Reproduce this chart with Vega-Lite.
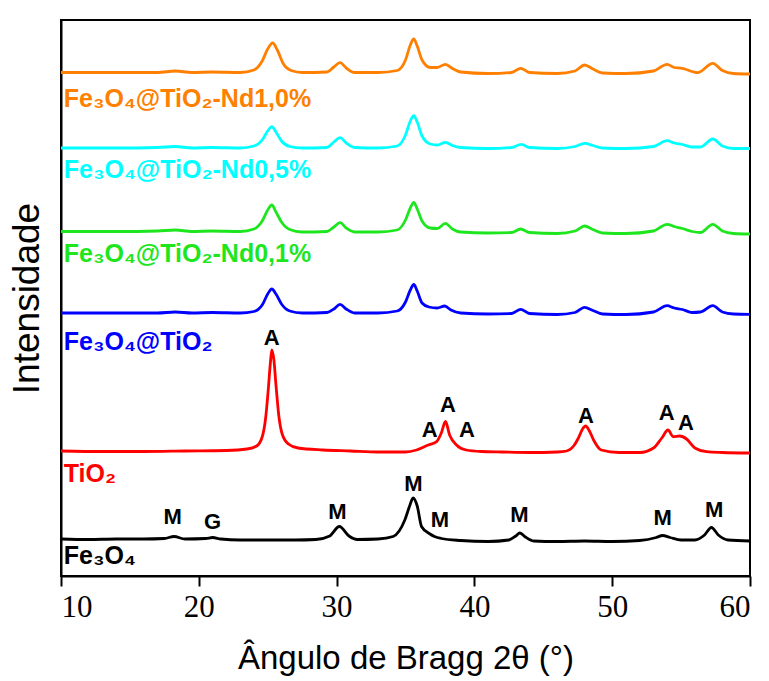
{
  "$schema": "https://vega.github.io/schema/vega-lite/v6.json",
  "width": 689,
  "height": 556,
  "autosize": {"type": "none"},
  "padding": {"left": 61, "top": 20, "right": 19, "bottom": 105},
  "background": "white",
  "config": {
    "view": {"stroke": "black", "strokeWidth": 2},
    "font": "Liberation Sans"
  },
  "datasets": {
    "lines": [
      {"s":"Fe3O4","x":10,"y":37},{"s":"Fe3O4","x":12,"y":36.5},{"s":"Fe3O4","x":14,"y":37},{"s":"Fe3O4","x":16,"y":37},{"s":"Fe3O4","x":17.5,"y":37.5},{"s":"Fe3O4","x":18.2,"y":39.5},{"s":"Fe3O4","x":19,"y":37},{"s":"Fe3O4","x":20.5,"y":37.5},{"s":"Fe3O4","x":21.0,"y":38.5},{"s":"Fe3O4","x":21.6,"y":37},{"s":"Fe3O4","x":23,"y":36},{"s":"Fe3O4","x":25,"y":36},{"s":"Fe3O4","x":27,"y":36},{"s":"Fe3O4","x":28.5,"y":36.5},{"s":"Fe3O4","x":29.5,"y":40},{"s":"Fe3O4","x":30.2,"y":49.5},{"s":"Fe3O4","x":30.9,"y":40},{"s":"Fe3O4","x":31.5,"y":36.5},{"s":"Fe3O4","x":33,"y":37},{"s":"Fe3O4","x":34.1,"y":39.5},{"s":"Fe3O4","x":34.95,"y":56},{"s":"Fe3O4","x":35.3,"y":70},{"s":"Fe3O4","x":35.55,"y":78},{"s":"Fe3O4","x":35.85,"y":70},{"s":"Fe3O4","x":36.17,"y":49.3},{"s":"Fe3O4","x":36.78,"y":42},{"s":"Fe3O4","x":37.1,"y":39.5},{"s":"Fe3O4","x":37.6,"y":37.5},{"s":"Fe3O4","x":39,"y":35.5},{"s":"Fe3O4","x":41,"y":34.5},{"s":"Fe3O4","x":42.5,"y":36},{"s":"Fe3O4","x":43.0,"y":40},{"s":"Fe3O4","x":43.3,"y":43},{"s":"Fe3O4","x":43.7,"y":39},{"s":"Fe3O4","x":44.3,"y":35},{"s":"Fe3O4","x":46,"y":34.5},{"s":"Fe3O4","x":48,"y":35},{"s":"Fe3O4","x":50,"y":34.5},{"s":"Fe3O4","x":52,"y":35.5},{"s":"Fe3O4","x":53.2,"y":38.5},{"s":"Fe3O4","x":53.65,"y":40.5},{"s":"Fe3O4","x":54.2,"y":38.5},{"s":"Fe3O4","x":55,"y":36},{"s":"Fe3O4","x":56,"y":36},{"s":"Fe3O4","x":56.7,"y":41},{"s":"Fe3O4","x":57.2,"y":48.5},{"s":"Fe3O4","x":57.7,"y":41},{"s":"Fe3O4","x":58.4,"y":36},{"s":"Fe3O4","x":60,"y":35},

      {"s":"TiO2","x":10,"y":125},{"s":"TiO2","x":13,"y":124.5},{"s":"TiO2","x":16,"y":124.5},{"s":"TiO2","x":19,"y":125},{"s":"TiO2","x":22,"y":125.5},{"s":"TiO2","x":23.5,"y":127},{"s":"TiO2","x":24.2,"y":130},{"s":"TiO2","x":24.6,"y":139},{"s":"TiO2","x":24.85,"y":158},{"s":"TiO2","x":25.05,"y":188},{"s":"TiO2","x":25.2,"y":214},{"s":"TiO2","x":25.3,"y":226},{"s":"TiO2","x":25.45,"y":216},{"s":"TiO2","x":25.6,"y":191},{"s":"TiO2","x":25.8,"y":161},{"s":"TiO2","x":26.05,"y":142},{"s":"TiO2","x":26.5,"y":132},{"s":"TiO2","x":27.2,"y":128},{"s":"TiO2","x":29,"y":126},{"s":"TiO2","x":31,"y":125},{"s":"TiO2","x":33,"y":124},{"s":"TiO2","x":35,"y":124},{"s":"TiO2","x":35.8,"y":126},{"s":"TiO2","x":36.65,"y":131},{"s":"TiO2","x":37.26,"y":134.3},{"s":"TiO2","x":37.6,"y":143},{"s":"TiO2","x":37.9,"y":154.5},{"s":"TiO2","x":38.2,"y":141},{"s":"TiO2","x":38.7,"y":131},{"s":"TiO2","x":39.4,"y":126},{"s":"TiO2","x":40.5,"y":124.5},{"s":"TiO2","x":42,"y":124},{"s":"TiO2","x":44,"y":123.5},{"s":"TiO2","x":46,"y":124},{"s":"TiO2","x":46.7,"y":125},{"s":"TiO2","x":47.2,"y":130},{"s":"TiO2","x":47.55,"y":138},{"s":"TiO2","x":47.85,"y":147},{"s":"TiO2","x":48.07,"y":150},{"s":"TiO2","x":48.35,"y":145},{"s":"TiO2","x":48.65,"y":136},{"s":"TiO2","x":49.2,"y":126},{"s":"TiO2","x":50.5,"y":123.5},{"s":"TiO2","x":52,"y":123.5},{"s":"TiO2","x":53.0,"y":128},{"s":"TiO2","x":53.6,"y":138},{"s":"TiO2","x":54.05,"y":146},{"s":"TiO2","x":54.43,"y":139.3},{"s":"TiO2","x":54.9,"y":140},{"s":"TiO2","x":55.4,"y":137},{"s":"TiO2","x":56.0,"y":128},{"s":"TiO2","x":56.85,"y":124.3},{"s":"TiO2","x":58,"y":123.5},{"s":"TiO2","x":60,"y":123},

      {"s":"FT","x":10,"y":263},{"s":"FT","x":14,"y":263},{"s":"FT","x":17,"y":263},{"s":"FT","x":18.3,"y":264},{"s":"FT","x":19.5,"y":263},{"s":"FT","x":21,"y":263.5},{"s":"FT","x":23,"y":263},{"s":"FT","x":24.0,"y":264.5},{"s":"FT","x":24.6,"y":271},{"s":"FT","x":25.0,"y":282},{"s":"FT","x":25.3,"y":287},{"s":"FT","x":25.6,"y":282},{"s":"FT","x":26.0,"y":272},{"s":"FT","x":26.6,"y":265},{"s":"FT","x":27.5,"y":263},{"s":"FT","x":29.3,"y":263.5},{"s":"FT","x":29.8,"y":267},{"s":"FT","x":30.25,"y":271.7},{"s":"FT","x":30.7,"y":267},{"s":"FT","x":31.3,"y":263},{"s":"FT","x":33,"y":263},{"s":"FT","x":34.4,"y":265},{"s":"FT","x":35.0,"y":274},{"s":"FT","x":35.35,"y":286},{"s":"FT","x":35.6,"y":291.5},{"s":"FT","x":35.85,"y":285},{"s":"FT","x":36.2,"y":273},{"s":"FT","x":36.7,"y":269},{"s":"FT","x":37.3,"y":268},{"s":"FT","x":37.85,"y":270},{"s":"FT","x":38.3,"y":266},{"s":"FT","x":39,"y":263},{"s":"FT","x":41,"y":262},{"s":"FT","x":42.7,"y":262.5},{"s":"FT","x":43.36,"y":266.7},{"s":"FT","x":44,"y":262.5},{"s":"FT","x":46,"y":261.5},{"s":"FT","x":47.3,"y":263.5},{"s":"FT","x":48.0,"y":268.7},{"s":"FT","x":48.6,"y":265.5},{"s":"FT","x":49.3,"y":262},{"s":"FT","x":51,"y":261.5},{"s":"FT","x":53.0,"y":264},{"s":"FT","x":53.98,"y":270.3},{"s":"FT","x":54.5,"y":268},{"s":"FT","x":55.1,"y":266.5},{"s":"FT","x":55.8,"y":263.5},{"s":"FT","x":56.4,"y":264},{"s":"FT","x":57.3,"y":270.3},{"s":"FT","x":58,"y":264},{"s":"FT","x":58.8,"y":262},{"s":"FT","x":60,"y":261.7},

      {"s":"N01","x":10,"y":344.5},{"s":"N01","x":14,"y":344.5},{"s":"N01","x":17,"y":345},{"s":"N01","x":18.3,"y":346},{"s":"N01","x":19.5,"y":344.5},{"s":"N01","x":21,"y":345},{"s":"N01","x":23,"y":344.5},{"s":"N01","x":24.0,"y":347},{"s":"N01","x":24.6,"y":355},{"s":"N01","x":25.0,"y":366},{"s":"N01","x":25.3,"y":371},{"s":"N01","x":25.6,"y":364},{"s":"N01","x":26.0,"y":354},{"s":"N01","x":26.6,"y":346.5},{"s":"N01","x":27.5,"y":344},{"s":"N01","x":29.3,"y":344.5},{"s":"N01","x":29.8,"y":349},{"s":"N01","x":30.25,"y":353.3},{"s":"N01","x":30.7,"y":348},{"s":"N01","x":31.3,"y":344},{"s":"N01","x":33,"y":344},{"s":"N01","x":34.4,"y":346},{"s":"N01","x":35.0,"y":356},{"s":"N01","x":35.35,"y":368},{"s":"N01","x":35.6,"y":373.7},{"s":"N01","x":35.85,"y":367},{"s":"N01","x":36.2,"y":355},{"s":"N01","x":36.8,"y":348},{"s":"N01","x":37.3,"y":347.5},{"s":"N01","x":37.9,"y":352.7},{"s":"N01","x":38.4,"y":347},{"s":"N01","x":39,"y":344},{"s":"N01","x":41,"y":343},{"s":"N01","x":42.7,"y":343.5},{"s":"N01","x":43.36,"y":347},{"s":"N01","x":44,"y":343.5},{"s":"N01","x":46,"y":342.5},{"s":"N01","x":47.3,"y":345},{"s":"N01","x":48.0,"y":350},{"s":"N01","x":48.6,"y":346.5},{"s":"N01","x":49.3,"y":343},{"s":"N01","x":51,"y":342.5},{"s":"N01","x":53.0,"y":345},{"s":"N01","x":53.98,"y":351.7},{"s":"N01","x":54.5,"y":349.5},{"s":"N01","x":55.1,"y":347.5},{"s":"N01","x":55.8,"y":344.5},{"s":"N01","x":56.4,"y":343.5},{"s":"N01","x":57.3,"y":351.7},{"s":"N01","x":58,"y":345},{"s":"N01","x":58.8,"y":342.5},{"s":"N01","x":60,"y":342},

      {"s":"N05","x":10,"y":428},{"s":"N05","x":14,"y":428},{"s":"N05","x":17,"y":428.5},{"s":"N05","x":18.3,"y":429.5},{"s":"N05","x":19.5,"y":428},{"s":"N05","x":21,"y":428.5},{"s":"N05","x":23,"y":428},{"s":"N05","x":24.0,"y":430},{"s":"N05","x":24.6,"y":436},{"s":"N05","x":25.0,"y":445},{"s":"N05","x":25.3,"y":449.3},{"s":"N05","x":25.6,"y":444},{"s":"N05","x":26.0,"y":435},{"s":"N05","x":26.6,"y":429.5},{"s":"N05","x":27.5,"y":428},{"s":"N05","x":29.3,"y":428.5},{"s":"N05","x":29.8,"y":434},{"s":"N05","x":30.25,"y":438.3},{"s":"N05","x":30.7,"y":433},{"s":"N05","x":31.3,"y":428.5},{"s":"N05","x":33,"y":428},{"s":"N05","x":34.4,"y":430},{"s":"N05","x":35.0,"y":441},{"s":"N05","x":35.35,"y":455},{"s":"N05","x":35.6,"y":460.3},{"s":"N05","x":35.85,"y":454},{"s":"N05","x":36.2,"y":440},{"s":"N05","x":36.8,"y":432},{"s":"N05","x":37.3,"y":431},{"s":"N05","x":37.9,"y":433.7},{"s":"N05","x":38.4,"y":430.5},{"s":"N05","x":39,"y":428.5},{"s":"N05","x":41,"y":427.5},{"s":"N05","x":42.7,"y":428.5},{"s":"N05","x":43.4,"y":431.7},{"s":"N05","x":44,"y":428.5},{"s":"N05","x":46,"y":427.5},{"s":"N05","x":47.3,"y":429.5},{"s":"N05","x":48.0,"y":432.7},{"s":"N05","x":48.6,"y":430.5},{"s":"N05","x":49.3,"y":428},{"s":"N05","x":51,"y":427.5},{"s":"N05","x":53.0,"y":429.5},{"s":"N05","x":53.98,"y":435.3},{"s":"N05","x":54.5,"y":433},{"s":"N05","x":55.1,"y":431.5},{"s":"N05","x":55.8,"y":429},{"s":"N05","x":56.4,"y":429},{"s":"N05","x":57.3,"y":437},{"s":"N05","x":58,"y":430},{"s":"N05","x":58.8,"y":427.5},{"s":"N05","x":60,"y":427.5},

      {"s":"N10","x":10,"y":503.5},{"s":"N10","x":14,"y":503.5},{"s":"N10","x":17,"y":503.5},{"s":"N10","x":18.3,"y":505},{"s":"N10","x":19.5,"y":503.5},{"s":"N10","x":21,"y":504},{"s":"N10","x":23,"y":503.5},{"s":"N10","x":24.0,"y":506},{"s":"N10","x":24.6,"y":515},{"s":"N10","x":25.0,"y":527},{"s":"N10","x":25.36,"y":533},{"s":"N10","x":25.7,"y":526},{"s":"N10","x":26.1,"y":513},{"s":"N10","x":26.7,"y":505.5},{"s":"N10","x":27.5,"y":503.5},{"s":"N10","x":29.3,"y":504},{"s":"N10","x":29.8,"y":509},{"s":"N10","x":30.25,"y":513.3},{"s":"N10","x":30.7,"y":508},{"s":"N10","x":31.3,"y":503.5},{"s":"N10","x":33,"y":503.5},{"s":"N10","x":34.4,"y":505.5},{"s":"N10","x":35.0,"y":516},{"s":"N10","x":35.35,"y":531},{"s":"N10","x":35.6,"y":537},{"s":"N10","x":35.85,"y":530},{"s":"N10","x":36.2,"y":516},{"s":"N10","x":36.8,"y":508.5},{"s":"N10","x":37.3,"y":508.5},{"s":"N10","x":37.9,"y":511.7},{"s":"N10","x":38.4,"y":507.5},{"s":"N10","x":39,"y":504},{"s":"N10","x":41,"y":502.5},{"s":"N10","x":42.7,"y":503.5},{"s":"N10","x":43.36,"y":507.7},{"s":"N10","x":44,"y":503.5},{"s":"N10","x":46,"y":502.5},{"s":"N10","x":47.3,"y":505},{"s":"N10","x":48.0,"y":511},{"s":"N10","x":48.6,"y":507},{"s":"N10","x":49.3,"y":503},{"s":"N10","x":51,"y":502.5},{"s":"N10","x":53.0,"y":505},{"s":"N10","x":53.98,"y":511.7},{"s":"N10","x":54.5,"y":508.5},{"s":"N10","x":55.1,"y":507.7},{"s":"N10","x":55.8,"y":504.5},{"s":"N10","x":56.2,"y":503.3},{"s":"N10","x":57.3,"y":512.7},{"s":"N10","x":58,"y":505.5},{"s":"N10","x":58.8,"y":502.5},{"s":"N10","x":60,"y":502}
    ],
    "names": [
      {"s":"N10","t":"Fe₃O₄@TiO₂-Nd1,0%","x":10.2,"y":469.3},
      {"s":"N05","t":"Fe₃O₄@TiO₂-Nd0,5%","x":10.2,"y":398},
      {"s":"N01","t":"Fe₃O₄@TiO₂-Nd0,1%","x":10.2,"y":314.3},
      {"s":"FT","t":"Fe₃O₄@TiO₂","x":10.2,"y":226},
      {"s":"TiO2","t":"TiO₂","x":10.2,"y":94},
      {"s":"Fe3O4","t":"Fe₃O₄","x":10.2,"y":12}
    ],
    "peaks": [
      {"t":"M","x":18.1,"y":58.7},{"t":"G","x":21.0,"y":54.3},{"t":"M","x":30.05,"y":63.7},{"t":"M","x":35.57,"y":92},{"t":"M","x":37.5,"y":56},{"t":"M","x":43.26,"y":60.7},{"t":"M","x":53.66,"y":58},{"t":"M","x":57.39,"y":66},
      {"t":"A","x":25.29,"y":237.7},{"t":"A","x":36.76,"y":146},{"t":"A","x":38.08,"y":171},{"t":"A","x":39.46,"y":146},{"t":"A","x":48.1,"y":160},{"t":"A","x":53.95,"y":163},{"t":"A","x":55.36,"y":153}
    ]
  },
  "layer": [
    {
      "data": {"name": "lines"},
      "mark": {"type": "line", "strokeWidth": 2.8, "interpolate": "monotone"},
      "encoding": {
        "x": {"field": "x", "type": "quantitative", "scale": {"domain": [10, 60], "nice": false, "zero": false},
          "axis": {"values": [10, 20, 30, 40, 50, 60], "title": "Ângulo de Bragg 2θ (°)", "grid": false, "tickSize": 10, "tickWidth": 2, "tickColor": "black", "domainColor": "black", "domainWidth": 2, "labelFontSize": 31, "labelColor": "black", "labelPadding": 6, "labelFont": "Liberation Sans Narrow", "titleFont": "Liberation Sans", "titleFontSize": 33, "titleFontWeight": "normal", "titleColor": "black", "titlePadding": 20}},
        "y": {"field": "y", "type": "quantitative", "scale": {"domain": [0, 556], "nice": false},
          "axis": {"title": "Intensidade", "grid": false, "ticks": false, "labels": false, "domainColor": "black", "domainWidth": 2, "titleFont": "Liberation Sans", "titleFontSize": 37, "titleFontWeight": "normal", "titleColor": "black", "titlePadding": 15}},
        "color": {"field": "s", "type": "nominal", "legend": null,
          "scale": {"domain": ["Fe3O4", "TiO2", "FT", "N01", "N05", "N10"], "range": ["#000000", "#FF0000", "#0000FF", "#1EE61E", "#00FFFF", "#FF7F00"]}},
        "detail": {"field": "s"}
      }
    },
    {
      "data": {"name": "names"},
      "mark": {"type": "text", "align": "left", "baseline": "alphabetic", "fontSize": 25, "fontWeight": "bold", "font": "Liberation Sans"},
      "encoding": {
        "x": {"field": "x", "type": "quantitative"},
        "y": {"field": "y", "type": "quantitative"},
        "text": {"field": "t"},
        "color": {"field": "s", "type": "nominal", "legend": null}
      }
    },
    {
      "data": {"name": "peaks"},
      "mark": {"type": "text", "align": "center", "baseline": "middle", "fontSize": 22, "fontWeight": "bold", "font": "Liberation Sans", "color": "black"},
      "encoding": {
        "x": {"field": "x", "type": "quantitative"},
        "y": {"field": "y", "type": "quantitative"},
        "text": {"field": "t"}
      }
    }
  ]
}
